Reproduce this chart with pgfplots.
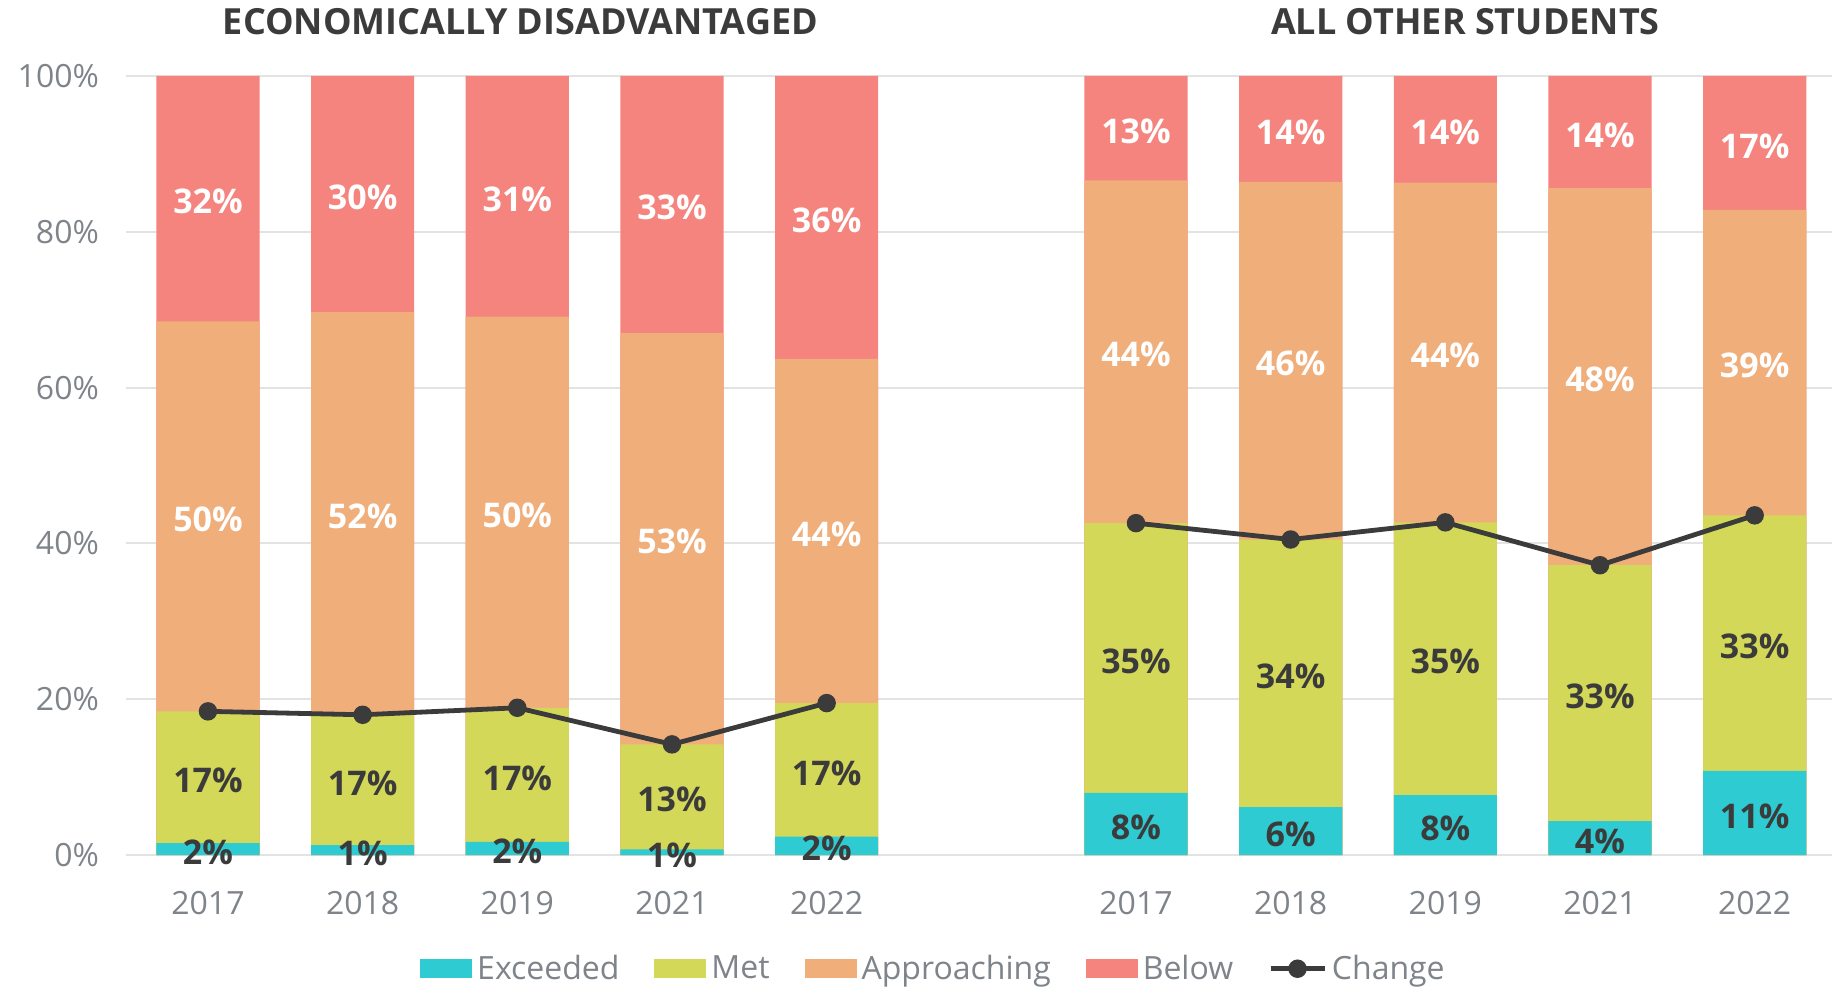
\documentclass[border=0pt]{standalone}
\usepackage{fontspec}
\setmainfont{Open Sans}
\usepackage{pgfplots}
\usepackage{pgfplotstable}
\pgfplotsset{compat=1.18}

\definecolor{cexc}{HTML}{2ECBD2}
\definecolor{cmet}{HTML}{D3D858}
\definecolor{capp}{HTML}{F0AE7B}
\definecolor{cbel}{HTML}{F4847D}
\definecolor{cline}{HTML}{3B3B3B}
\definecolor{ctick}{HTML}{7F848A}
\definecolor{cgrid}{HTML}{E3E3E3}

% x: 0-4 economically disadvantaged, 6-10 all other students
% exc/met/app/bel = segment sizes (%), le..lb = printed labels
\pgfplotstableread{
x  exc   met   app   bel   le lm la lb
0  1.54  16.90 50.06 31.50 2  17 50 32
1  1.28  16.72 51.70 30.30 1  17 52 30
2  1.67  17.23 50.20 30.90 2  17 50 31
3  0.73  13.47 52.80 33.00 1  13 53 33
4  2.36  17.14 44.20 36.30 2  17 44 36
6  7.96  34.64 44.00 13.40 8  35 44 13
7  6.16  34.34 45.90 13.60 6  34 46 14
8  7.70  35.00 43.60 13.70 8  35 44 14
9  4.36  32.84 48.40 14.40 4  33 48 14
10 10.80 32.80 39.20 17.20 11 33 39 17
}\data

\pgfplotsset{
  seg/.style={ybar, bar width=0.667, bar shift=0pt, draw=none, fill=#1, forget plot},
  lab/.style={draw=none, mark=none, forget plot, nodes near coords={\pgfplotspointmeta\%},
    point meta=explicit symbolic,
    every node near coord/.append style={anchor=center, text=#1, yshift=-1.5pt,
      font=\fontsize{17}{20}\selectfont\bfseries}},
  swatch/.style={legend image code/.code={\fill[##1, draw=none] (0pt,-4.75pt) rectangle (26pt,4.75pt);}},
  linelegend/.style={legend image code/.code={\draw[##1, mark repeat=2, mark phase=2]
    plot coordinates {(0pt,0pt) (13.5pt,0pt) (27pt,0pt)};}},
  chg/.style={color=cline, line width=2.4pt, mark=*, mark size=3.4pt},
}

\begin{document}
\begin{tikzpicture}
\begin{axis}[
  scale only axis,
  width=853pt, height=389.5pt,
  xmin=-0.53, xmax=10.5,
  ymin=0, ymax=100,
  clip=false,
  axis line style={draw=none},
  tick style={draw=none},
  major tick length=0pt,
  ymajorgrids,
  grid style={line width=1pt, color=cgrid},
  ytick={0,20,...,100},
  yticklabel={\pgfmathprintnumber{\tick}\%},
  xtick={0,1,2,3,4,6,7,8,9,10},
  xticklabels={2017,2018,2019,2021,2022,2017,2018,2019,2021,2022},
  /pgf/number format/assume math mode=true,
  ticklabel style={font=\fontsize{16}{19}\selectfont, text=ctick},
  xticklabel style={yshift=-14.5pt},
  yticklabel style={xshift=-10pt},
  legend columns=-1,
  legend style={at={(0.4736,-0.146)}, anchor=center, draw=none,
    font=\fontsize{16}{19}\selectfont, text=ctick,
    nodes={inner sep=1.5pt},
    /tikz/every odd column/.append style={column sep=1pt},
    /tikz/every even column/.append style={column sep=16pt}},
]
% bars drawn as overlaid cumulative heights
\addplot[seg=cbel] table[x=x, y expr=\thisrow{exc}+\thisrow{met}+\thisrow{app}+\thisrow{bel}] {\data};
\addplot[seg=capp] table[x=x, y expr=\thisrow{exc}+\thisrow{met}+\thisrow{app}] {\data};
\addplot[seg=cmet] table[x=x, y expr=\thisrow{exc}+\thisrow{met}] {\data};
\addplot[seg=cexc] table[x=x, y=exc] {\data};

% change line (met or above), one per group
\addplot[chg, forget plot, restrict x to domain=0:4] table[x=x, y expr=\thisrow{exc}+\thisrow{met}] {\data};
\addplot[chg, forget plot, restrict x to domain=6:10] table[x=x, y expr=\thisrow{exc}+\thisrow{met}] {\data};

% segment labels
\addplot[lab=cline] table[x=x, y expr=\thisrow{exc}/2, meta=le] {\data};
\addplot[lab=cline] table[x=x, y expr=\thisrow{exc}+\thisrow{met}/2, meta=lm] {\data};
\addplot[lab=white] table[x=x, y expr=\thisrow{exc}+\thisrow{met}+\thisrow{app}/2, meta=la] {\data};
\addplot[lab=white] table[x=x, y expr=\thisrow{exc}+\thisrow{met}+\thisrow{app}+\thisrow{bel}/2, meta=lb] {\data};

\addlegendimage{swatch, fill=cexc}
\addlegendentry{Exceeded}
\addlegendimage{swatch, fill=cmet}
\addlegendentry{Met}
\addlegendimage{swatch, fill=capp}
\addlegendentry{Approaching}
\addlegendimage{swatch, fill=cbel}
\addlegendentry{Below}
\addlegendimage{chg, linelegend}
\addlegendentry{Change}

\node[font=\fontsize{18}{21}\selectfont\bfseries, text=cline] at (axis cs:2.02,100) [yshift=27pt] {ECONOMICALLY DISADVANTAGED};
\node[font=\fontsize{18}{21}\selectfont\bfseries, text=cline] at (axis cs:8.13,100) [yshift=27pt] {ALL OTHER STUDENTS};
\end{axis}
\pgfresetboundingbox
\path ([xshift=-63pt,yshift=-65.5pt]current axis.south west) rectangle ([xshift=5pt,yshift=38pt]current axis.north east);
\end{tikzpicture}
\end{document}
